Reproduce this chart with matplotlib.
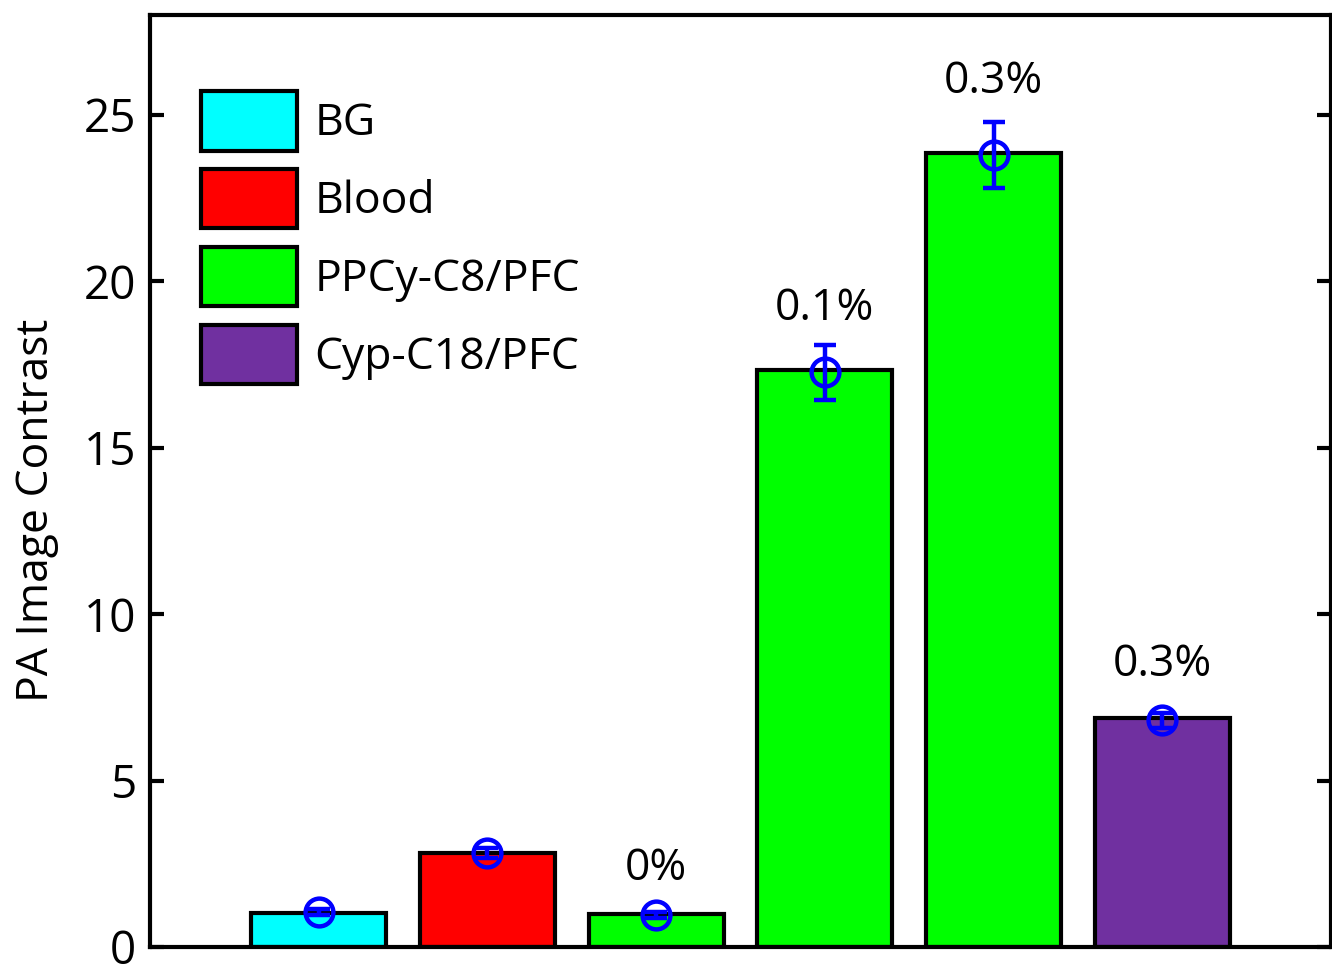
import matplotlib
matplotlib.use("Agg")
import matplotlib.pyplot as plt
from matplotlib.patches import Patch

plt.rcParams['font.family'] = ['Open Sans', 'DejaVu Sans']

# data
groups = ["BG", "Blood", "PPCy-C8/PFC", "PPCy-C8/PFC", "PPCy-C8/PFC", "Cyp-C18/PFC"]
bar_values = [1.02, 2.82, 0.99, 17.32, 23.86, 6.87]
means = [1.05, 2.82, 0.96, 17.26, 23.80, 6.81]
errors = [0.10, 0.15, 0.10, 0.83, 1.00, 0.22]
annotations = ["", "", "0%", "0.1%", "0.3%", "0.3%"]
legend_labels = ["BG", "Blood", "PPCy-C8/PFC", "Cyp-C18/PFC"]
legend_colors = ["#00FFFF", "#FF0000", "#00FF00", "#7030A0"]
color_of = dict(zip(legend_labels, legend_colors))
yticks = [0, 5, 10, 15, 20, 25]

fig = plt.figure(figsize=(13.32, 9.67), dpi=100)
ax = fig.add_axes([150/1332, 20/967, 1181/1332, 932/967])

x = list(range(1, len(bar_values) + 1))
ax.bar(x, bar_values, width=0.8, color=[color_of[g] for g in groups],
       edgecolor='black', linewidth=3, zorder=2)
ax.errorbar(x, means, yerr=errors, fmt='o', mfc='none', mec='#0000FF', ms=20,
            mew=3.2, ecolor='#0000FF', elinewidth=3.2, capsize=8, capthick=3.2, zorder=3)

# vertical gap (in data units) between the top of each error bar and its label
label_pads = [0, 0, 0.95, 0.75, 0.86, 1.1]
for xi, m, e, t, p in zip(x, means, errors, annotations, label_pads):
    if t:
        ax.text(xi, m + e + p, t, ha='center', va='baseline', fontsize=32)

ax.set_xlim(0, 7)
ax.set_ylim(0, 28)
ax.set_xticks([])
ax.set_yticks(yticks)
ax.tick_params(axis='y', direction='in', length=10, width=3, labelsize=33,
               right=True, pad=10)
for s in ax.spines.values():
    s.set_linewidth(3)
ax.set_ylabel("PA Image Contrast", fontsize=32, labelpad=18, y=0.469)

handles = [Patch(facecolor=c, edgecolor='black', linewidth=3) for c in legend_colors]
ax.legend(handles, legend_labels, loc='upper left', bbox_to_anchor=(0.043, 0.918),
          frameon=False, fontsize=32, handlelength=2.16, handleheight=1.67,
          labelspacing=0.42, handletextpad=0.4, borderpad=0, borderaxespad=0)

fig.savefig("out.png", dpi=100)
